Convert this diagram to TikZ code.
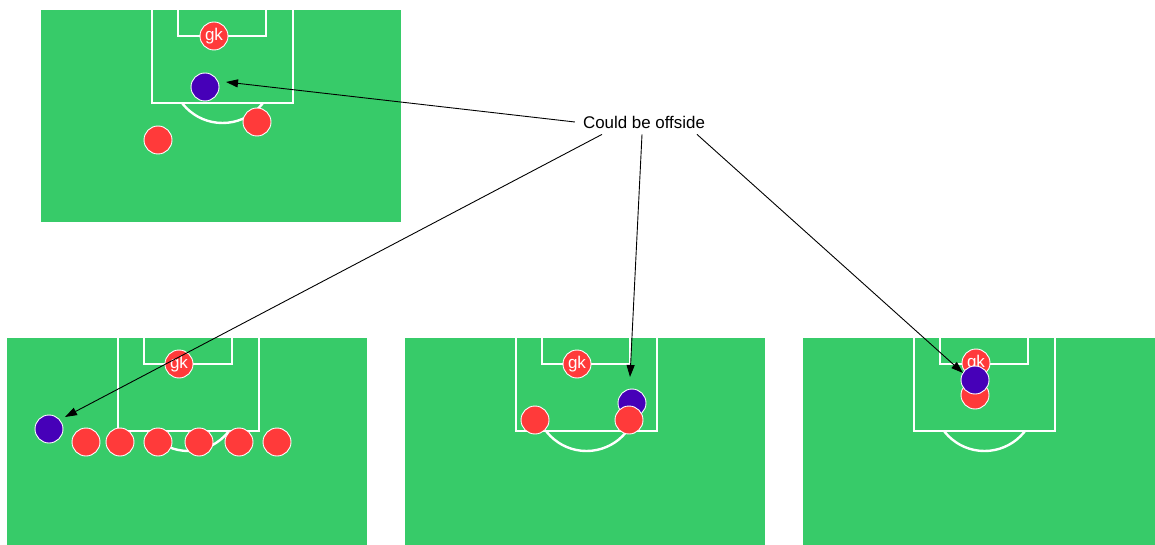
\documentclass[tikz,border=0pt]{standalone}
\usepackage{fontspec}
\setmainfont{Liberation Sans}
\usetikzlibrary{arrows.meta,positioning,calc}
\definecolor{turf}{HTML}{37CB69}
\definecolor{home}{HTML}{FF3A3A}
\definecolor{away}{HTML}{4600B8}
\tikzset{
  >={Triangle[length=12pt,width=8pt]},
  pline/.style={draw=white,line width=2.4pt},
  player/.style={circle,draw=white,line width=0.9pt,minimum size=28pt,inner sep=0pt,font=\fontsize{17}{17}\selectfont\color{white}},
  def/.style={player,fill=home},
  att/.style={player,fill=away},
  note/.style={font=\fontsize{16.9}{20}\selectfont,inner sep=2pt},
  arr/.style={->,draw=black,line width=0.9pt},
  pitch/.pic={
    \fill[turf] (0,0) rectangle (360,212);
    \draw[pline] (111,0) -- (111,93) -- (252,93) -- (252,0);
    \draw[pline] (137,0) -- (137,26) -- (225,26) -- (225,0);
    \begin{scope}
      \clip (100,94) rectangle (262,160);
      \draw[pline] (181.5,62) circle[radius=51];
    \end{scope}
  },
}
\begin{document}
\begin{tikzpicture}[x=1pt,y=-1pt]
\clip (0,0) rectangle (1155,545);
\fill[white] (0,0) rectangle (1155,545);
\pic at (41,10) {pitch};
\pic at (7,338) {pitch};
\pic at (405,338) {pitch};
\pic at (803,338) {pitch};
% top pitch
\node[def] (gkA) at (214,36) {gk};
\node[att] (atA) at (205,87) {};
\node[def] (dA1) at (257,122) {};
\node[def] (dA2) at (158,140) {};
% bottom left
\node[def] (gkB) at (179,364) {gk};
\node[att] (atB) at (49,429) {};
\foreach \i/\x in {1/86,2/120,3/158,4/199,5/239,6/277}
  \node[def] (dB\i) at (\x,442) {};
% bottom middle
\node[def] (gkC) at (577,364) {gk};
\node[att] (atC) at (632,403) {};
\node[def] (dC1) at (535,420) {};
\node[def] (dC2) at (629,420) {};
% bottom right
\node[def] (gkD) at (976,363) {gk};
\node[def] (dD1) at (975,395) {};
\node[att] (atD) at (975,380) {};
\node[note] (offs) at (644,122) {Could be offside};
\coordinate (s1) at ([xshift=-6pt]offs.west);
\coordinate (s2) at ([xshift=-42pt,yshift=-4pt]offs.south);
\coordinate (s3) at ([xshift=-2pt,yshift=-4pt]offs.south);
\coordinate (s4) at ([xshift=53pt,yshift=-4pt]offs.south);
\coordinate (t1) at ([shift={(21,-5)}]atA);
\coordinate (t2) at ([shift={(16,-12)}]atB);
\coordinate (t3) at ([shift={(-2,-26)}]atC);
\coordinate (t4) at ([shift={(-12,-7)}]atD);
\draw[arr] (s1) -- (t1);
\draw[arr] (s2) -- (t2);
\draw[arr] (s3) -- (t3);
\draw[arr] (s4) -- (t4);
\end{tikzpicture}
\end{document}
